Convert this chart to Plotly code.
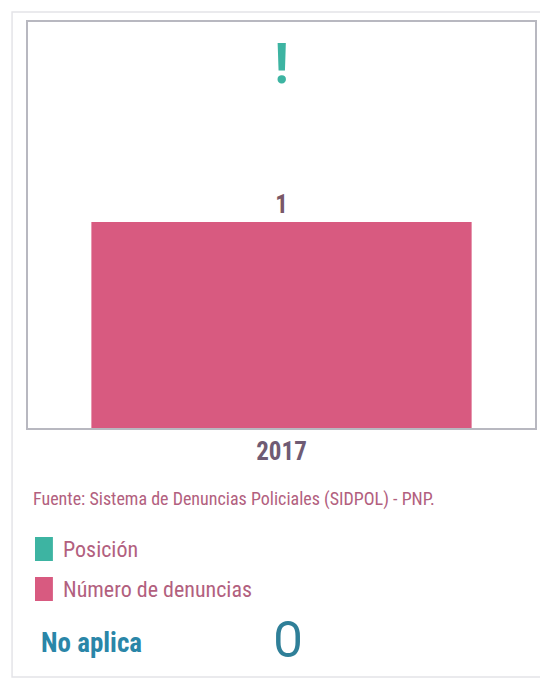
import plotly.graph_objects as go

# ---- data ----
years = ["2017"]
denuncias = [1]
posicion = [1]
posicion_labels = ["!"]
fuente = "Fuente: Sistema de Denuncias Policiales (SIDPOL) - PNP."
legend_names = ["Posición", "Número de denuncias"]
estado_texto = "No aplica"
estado_simbolo = "O"

OFF = 8  # page body margin
W, H = 548 - OFF, 680 - OFF
L, R, T, B = 28 - OFF, 537 - OFF, 22 - OFF, 428 - OFF

def px(x):
    return (x - OFF - L) / (R - L)

def py(y):
    return (B - (y - OFF)) / (B - T)

NARROW = "Liberation Sans Narrow, Arial Narrow, Roboto Condensed, DejaVu Sans Condensed, sans-serif"
TEAL = "#3db4a2"
RED = "#d85a80"

fig = go.Figure()
fig.add_trace(go.Bar(
    x=years, y=denuncias, name=legend_names[1],
    marker=dict(color=RED, line=dict(width=0)),
    text=["<b>%d</b>" % v for v in denuncias], textposition="outside",
    textfont=dict(family=NARROW, size=25, color="#7a5866"),
    cliponaxis=False, showlegend=False,
))
fig.add_trace(go.Scatter(
    x=years, y=posicion, name=legend_names[0], yaxis="y2",
    mode="text", text=["<b>%s</b>" % t for t in posicion_labels], textposition="middle center",
    textfont=dict(family=NARROW, size=56, color=TEAL),
    cliponaxis=False, showlegend=False,
))

shapes = [
    dict(type="rect", xref="paper", yref="paper",
         x0=px(12), x1=px(546), y0=py(12), y1=py(677),
         line=dict(color="#e4e4e8", width=1.5), fillcolor="rgba(0,0,0,0)", layer="below"),
    dict(type="rect", xref="paper", yref="paper",
         x0=px(35), x1=px(53), y0=py(537), y1=py(561),
         line=dict(width=0), fillcolor=TEAL),
    dict(type="rect", xref="paper", yref="paper",
         x0=px(35), x1=px(53), y0=py(577), y1=py(601),
         line=dict(width=0), fillcolor=RED),
]

annotations = [
    dict(xref="paper", yref="paper", x=px(31), y=py(499), text=fuente,
         showarrow=False, xanchor="left", yanchor="middle",
         font=dict(family=NARROW, size=18, color="#b2607e")),
    dict(xref="paper", yref="paper", x=px(61), y=py(549), text=legend_names[0],
         showarrow=False, xanchor="left", yanchor="middle",
         font=dict(family=NARROW, size=22, color="#b2607e")),
    dict(xref="paper", yref="paper", x=px(61), y=py(589), text=legend_names[1],
         showarrow=False, xanchor="left", yanchor="middle",
         font=dict(family=NARROW, size=22, color="#b2607e")),
    dict(xref="paper", yref="paper", x=px(39), y=py(643), text="<b>" + estado_texto + "</b>",
         showarrow=False, xanchor="left", yanchor="middle",
         font=dict(family=NARROW, size=27, color="#2a86a8")),
    dict(xref="paper", yref="paper", x=px(289), y=py(640), text=estado_simbolo,
         showarrow=False, xanchor="center", yanchor="middle",
         font=dict(family=NARROW, size=50, color="#2f7f98")),
]

fig.update_layout(
    width=W, height=H,
    margin=dict(l=L, r=W - R, t=T, b=H - B, pad=0),
    paper_bgcolor="white", plot_bgcolor="white",
    bargap=0.25,
    showlegend=False,
    xaxis=dict(showline=True, mirror=True, linecolor="#b8b8c0", linewidth=1.5,
               showgrid=False, zeroline=False, ticks="",
               tickfont=dict(family=NARROW, size=25, color="#6f5b74"),
               tickvals=years, ticktext=["<b>%s</b>" % y for y in years],
               range=[-0.5, 0.5]),
    yaxis=dict(showline=True, mirror=True, linecolor="#b8b8c0", linewidth=1.5,
               showgrid=False, zeroline=False, showticklabels=False, ticks="",
               range=[0, 1.97]),
    yaxis2=dict(overlaying="y", side="right", range=[0, 1.13],
                showticklabels=False, showgrid=False, zeroline=False, showline=False),
    shapes=shapes, annotations=annotations,
)

fig.write_html("out.html")
